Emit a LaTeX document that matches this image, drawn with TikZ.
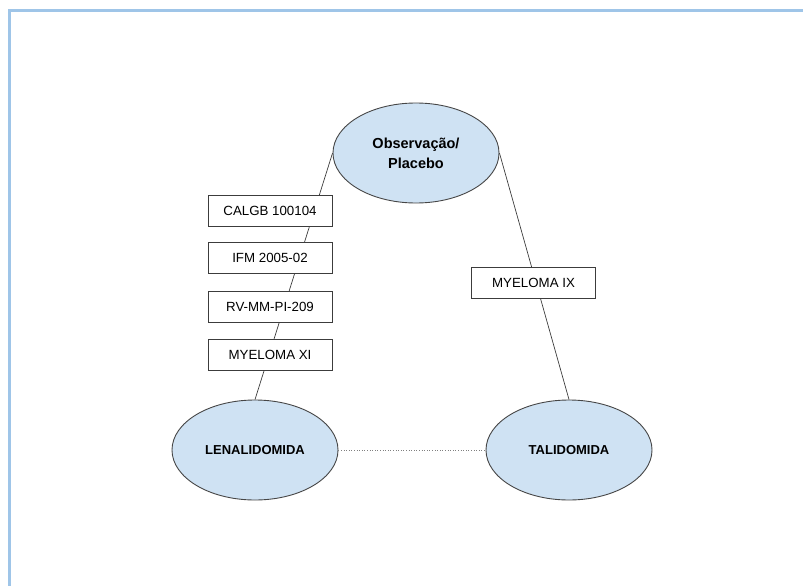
\documentclass[tikz,border=0pt]{standalone}
\usepackage{fontspec}
\setmainfont{Liberation Sans}
\usetikzlibrary{shapes.geometric}
\definecolor{framec}{RGB}{159,197,232}
\definecolor{ellfill}{RGB}{207,226,243}
\definecolor{ellline}{RGB}{70,70,70}
\definecolor{linec}{RGB}{60,60,60}
\begin{document}
\begin{tikzpicture}[x=1pt,y=-1pt,
  oval/.style={ellipse, draw=ellline, line width=0.9pt, fill=ellfill, minimum width=166pt, minimum height=100pt, inner sep=0pt, font=\fontsize{13}{16}\selectfont\bfseries, align=center},
  trial/.style={rectangle, draw=linec, line width=0.7pt, fill=white, minimum width=124pt, minimum height=31pt, inner sep=0pt, font=\fontsize{13.3}{16}\selectfont},
  conn/.style={draw=linec, line width=0.7pt}]
\useasboundingbox (0,0) rectangle (803,586);
\draw[framec, line width=3pt] (9.5,586) -- (9.5,10.5) -- (803,10.5);

\node[oval, font=\fontsize{14.5}{20}\selectfont\bfseries] (obs) at (416,153) {Observação/\\Placebo};
\node[oval] (len) at (255,450) {LENALIDOMIDA};
\node[oval] (tal) at (569,450) {TALIDOMIDA};

\draw[conn] (obs.west) -- (len.north);
\draw[conn] (obs.east) -- (tal.north);
\draw[gray, line width=0.6pt, dotted] (len.east) -- (tal.west);

\node[trial] (calgb) at (270,211) {CALGB 100104};
\node[trial] (ifm) at (270,258) {IFM 2005-02};
\node[trial] (rv) at (270,307) {RV-MM-PI-209};
\node[trial] (mxi) at (270,354.5) {MYELOMA XI};
\node[trial] (mix) at (533.5,282.5) {MYELOMA IX};
\end{tikzpicture}
\end{document}
